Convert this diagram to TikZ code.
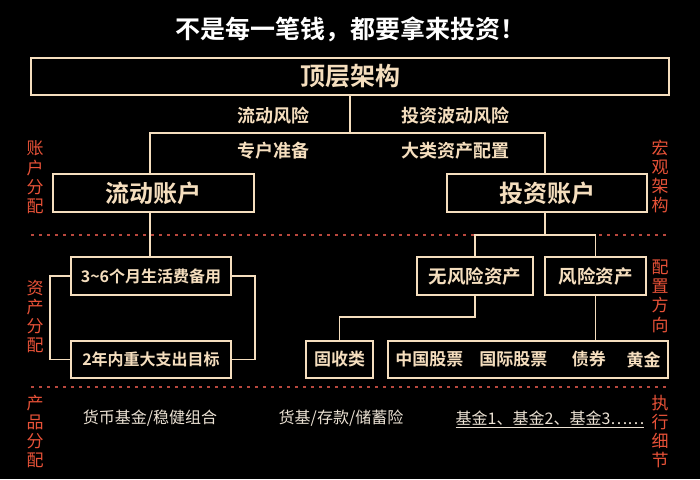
\documentclass[tikz,border=0pt]{standalone}
\usepackage{fontspec}
\setmainfont{Noto Sans CJK SC}[BoldFont={Noto Sans CJK SC Bold}]
\usetikzlibrary{calc}
\definecolor{beige}{RGB}{245,222,190}
\definecolor{lbl}{RGB}{232,82,56}
\definecolor{dashc}{RGB}{185,72,62}
\definecolor{prod}{RGB}{236,226,212}
\tikzset{
  boxn/.style={draw=beige, line width=1.8pt, inner sep=0pt, text=beige, font=\bfseries\fontsize{#1}{#1}\selectfont},
  conn/.style={draw=beige, line width=1.8pt},
  midtxt/.style={text=beige, inner sep=0pt, font=\bfseries\fontsize{18}{18}\selectfont},
  bigtxt/.style={text=beige, inner sep=0pt, font=\bfseries\fontsize{17}{17}\selectfont},
  sidelbl/.style={text=lbl, inner sep=0pt, align=center, font=\fontsize{17}{19.3}\selectfont},
  prodtxt/.style={text=prod, inner sep=0pt, font=\fontsize{16}{16}\selectfont},
  sep/.style={draw=dashc, line width=1.5pt, dash pattern=on 3pt off 5pt}
}
\begin{document}
\begin{tikzpicture}[x=1pt,y=-1pt]
\fill[black] (0,0) rectangle (700,479);
\useasboundingbox (0,0) rectangle (700,479);

% title
\node[text=white, inner sep=0pt, font=\bfseries\fontsize{25}{25}\selectfont] (title) at (350,29) {不是每一笔钱，都要拿来投资！};

% separators
\coordinate (s1a) at (31,235); \coordinate (s1b) at (668,235);
\coordinate (s2a) at (31,387); \coordinate (s2b) at (668,387);
\draw[sep] (s1a) -- (s1b);
\draw[sep] (s2a) -- (s2b);

% boxes
\node[boxn=25, minimum width=638, minimum height=37] (top) at (350,76.5) {顶层架构};
\node[boxn=24, minimum width=201, minimum height=38] (liu) at (153.5,193) {流动账户};
\node[boxn=24, minimum width=200, minimum height=38] (tou) at (547,193) {投资账户};
\node[boxn=16, minimum width=160, minimum height=38] (a1) at (151,276) {3\textasciitilde 6个月生活费备用};
\node[boxn=16, minimum width=160, minimum height=37] (a2) at (151,359.5) {2年内重大支出目标};
\node[boxn=18.5, minimum width=116, minimum height=38] (wu) at (475,276) {无风险资产};
\node[boxn=18.5, minimum width=101, minimum height=38] (fx) at (595.5,276) {风险资产};
\node[boxn=17, minimum width=67, minimum height=37] (gs) at (339.5,359.5) {固收类};
\node[boxn=17, minimum width=280, minimum height=37] (big) at (528,359.5) {};
\node[bigtxt] (b1) at (429.3,359.5) {中国股票};
\node[bigtxt] (b2) at (513.3,359.5) {国际股票};
\node[bigtxt] (b3) at (588.8,359.5) {债券};
\node[bigtxt] (b4) at (643.7,359.5) {黄金};

% mid labels
\node[midtxt] (m1) at (273,116) {流动风险};
\node[midtxt] (m2) at (273,151) {专户准备};
\node[midtxt] (m3) at (455,116) {投资波动风险};
\node[midtxt] (m4) at (455,151) {大类资产配置};

% connectors
\coordinate (cL) at (150,133);
\coordinate (cR) at (545,133);
\coordinate (cM) at (350,133);
\draw[conn] (top.south) -- (cM);
\draw[conn] (liu.north -| cL) -- (cL) -- (cR) -- (tou.north -| cR);
\draw[conn] (liu.south -| cL) -- (a1.north -| cL);
\draw[conn] (a1.west) -- ++(-20,0) |- (a2.west);
\draw[conn] (a1.east) -- ++(23,0) |- (a2.east);
\coordinate (j3) at (545,235);
\draw[conn] (tou.south -| j3) -- (j3);
\draw[conn] (wu.north) -- (wu.north |- j3) -- (fx.north |- j3) -- (fx.north);
\coordinate (j4) at (339.5,317);
\draw[conn] (wu.south) |- (j4) -- (gs.north);
\draw[conn] (fx.south) -- (fx.south |- big.north);

% side labels
\node[sidelbl] (l1) at (35,177.5) {账\\户\\分\\配};
\node[sidelbl] (l2) at (35,316.5) {资\\产\\分\\配};
\node[sidelbl] (l3) at (35,431.5) {产\\品\\分\\配};
\node[sidelbl] (r1) at (660,176.5) {宏\\观\\架\\构};
\node[sidelbl] (r2) at (660,296) {配\\置\\方\\向};
\node[sidelbl] (r3) at (660,431.5) {执\\行\\细\\节};

% product row
\node[prodtxt] (p1) at (150,418) {货币基金/稳健组合};
\node[prodtxt] (p2) at (341,418) {货基/存款/储蓄险};
\node[prodtxt] (p3) at (550,418) {基金1、基金2、基金3……};
\draw[draw=prod, line width=1pt] ([yshift=-3pt]p3.base west) -- ([yshift=-3pt]p3.base east);
\end{tikzpicture}
\end{document}
